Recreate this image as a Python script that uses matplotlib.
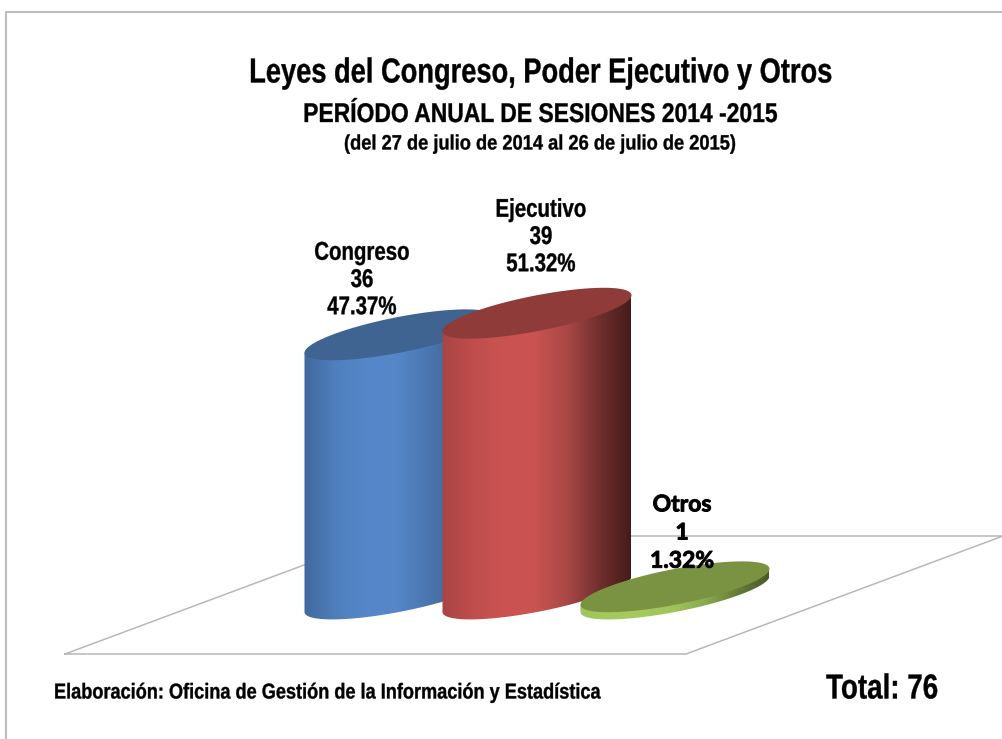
import numpy as np
import matplotlib
matplotlib.use("Agg")
import matplotlib.pyplot as plt
import matplotlib.patheffects as pe
from matplotlib.colors import LinearSegmentedColormap
from matplotlib.patches import Polygon
from matplotlib.transforms import Affine2D

categories = ["Congreso", "Ejecutivo", "Otros"]
values = [36, 39, 1]
percents = ["47.37%", "51.32%", "1.32%"]
total = 76

title = "Leyes del Congreso, Poder Ejecutivo y Otros"
subtitle = "PERÍODO ANUAL DE SESIONES 2014 -2015"
subtitle2 = "(del 27 de julio de 2014 al 26 de julio de 2015)"
source = "Elaboración: Oficina de Gestión de la Información y Estadística"

side_colors = [
    ["#41699c", "#4f7fbd", "#5587ca", "#5486c8", "#4a76ae", "#3d6190", "#22374f"],
    ["#a84543", "#bf4e4c", "#cb5452", "#c85351", "#a84745", "#70302f", "#451b1a"],
    ["#a0c55a", "#a4c95d", "#a4c95d", "#a0c45b", "#8aa94d", "#667d38", "#4a5a28"],
]
top_colors = ["#3f6492", "#8f3b3a", "#799342"]

# pixel layout of the fake 3d scene
BASE_Y = 594
FIRST_X = 399
STEP_X = 138
RX = 94.5
RY = 18
SHEAR = -0.19
PX_PER_UNIT = 7.2


class Squeeze(pe.AbstractPathEffect):
    # no narrow font installed, so squeeze the glyphs around the anchor x
    def __init__(self, sx, x0, lw=0.25):
        super().__init__()
        self.sx = sx
        self.x0 = x0
        self.lw = lw

    def draw_path(self, renderer, gc, tpath, affine, rgbFace=None):
        squeeze = Affine2D().translate(-self.x0, 0).scale(self.sx, 1).translate(self.x0, 0)
        gc0 = renderer.new_gc()
        gc0.copy_properties(gc)
        gc0.set_linewidth(self.lw)  # reference strokes are heavier
        gc0.set_foreground("black")
        renderer.draw_path(gc0, tpath, affine + squeeze, rgbFace)
        gc0.restore()


fig = plt.figure(figsize=(10.03, 7.39), dpi=100)
ax = fig.add_axes([0, 0, 1, 1])


def narrow_text(x, y, s, size, sx, ha="center", spacing=1.2):
    t = ax.text(x, y, s, ha=ha, va="center", fontsize=size, fontweight="bold",
                family="Liberation Sans", linespacing=spacing, zorder=10)
    t.set_path_effects([Squeeze(sx, x)])
    return t


def ellipse_pts(cx, cy, t):
    x = cx + RX * np.cos(t)
    y = cy + SHEAR * RX * np.cos(t) + RY * np.sin(t)
    return np.column_stack([x, y])


def draw_cylinder(i, value):
    cx = FIRST_X + i * STEP_X
    top = BASE_Y - value * PX_PER_UNIT
    # body: bottom half of the base ellipse closed up to the top ellipse tips
    arc = ellipse_pts(cx, BASE_Y, np.linspace(np.pi, 0, 80))
    upper = ellipse_pts(cx, top, np.array([0, np.pi]))
    body = Polygon(np.vstack([arc, upper]), closed=True, fc="none", ec="none", zorder=3 + i)
    ax.add_patch(body)
    cmap = LinearSegmentedColormap.from_list("side%d" % i, side_colors[i])
    grad = np.linspace(0, 1, 256).reshape(1, -1)
    im = ax.imshow(grad, cmap=cmap, aspect="auto", zorder=3 + i,
                   extent=(cx - RX, cx + RX, BASE_Y + 40, top - 40))
    im.set_clip_path(body)
    lid = ellipse_pts(cx, top, np.linspace(0, 2 * np.pi, 160))
    ax.add_patch(Polygon(lid, closed=True, fc=top_colors[i], ec="none", zorder=3 + i))


# outer frame
ax.plot([6, 6, 1003], [739, 12, 12], color="#bdbdbd", lw=1.5, zorder=1)

# floor
floor_x = [65, 686, 1003, 382, 65]
floor_y = [654, 654, 536, 536, 654]
ax.plot(floor_x, floor_y, color="#b8b8b8", lw=1.1, zorder=2)

for i, v in enumerate(values):
    draw_cylinder(i, v)

ax.set_xlim(0, 1003)
ax.set_ylim(739, 0)
ax.axis("off")

narrow_text(541, 73, title, 25, 0.785)
narrow_text(541, 115, subtitle, 19.5, 0.845)
narrow_text(541, 144, subtitle2, 15, 0.877)

label_xy = [(362, 280), (541, 237)]
for i in range(2):
    narrow_text(label_xy[i][0], label_xy[i][1],
                "%s\n%d\n%s" % (categories[i], values[i], percents[i]),
                18.5, 0.795, spacing=1.17)
otros = ax.text(682, 533, "%s\n%d\n%s" % (categories[2], values[2], percents[2]),
                ha="center", va="center", fontsize=16.5, fontweight="bold", family="Lato",
                linespacing=1.42, zorder=10)
otros.set_path_effects([Squeeze(1.0, 682, lw=0.7)])

narrow_text(54, 693, source, 15.5, 0.843, ha="left")
narrow_text(826, 689, "Total: %d" % total, 25, 0.8, ha="left")

fig.savefig("out.png", dpi=100)
